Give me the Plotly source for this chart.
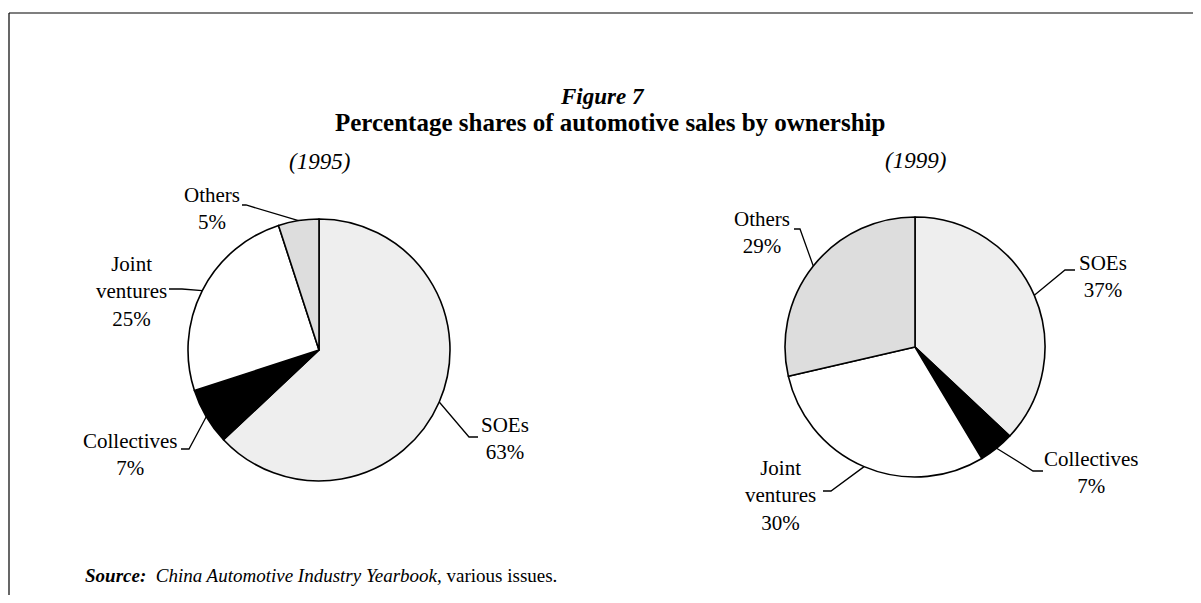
import math
import plotly.graph_objects as go

# the page body keeps an 8px margin, so the figure is sized to fit inside it
PAGE_W, PAGE_H = 1201, 603
OFF = 8
W, H = PAGE_W - 2 * OFF, PAGE_H - 2 * OFF
FONT = "Liberation Serif"

categories = ["SOEs", "Collectives", "Joint ventures", "Others"]
slice_colors = ["#eeeeee", "#000000", "#ffffff", "#dddddd"]

# slice sizes as drawn, and the percentages printed next to them
values_1995 = [63, 7, 25, 5]
labels_1995 = ["63%", "7%", "25%", "5%"]
values_1999 = [37, 4.4, 30, 28.6]
labels_1999 = ["37%", "7%", "30%", "29%"]


def px(x):
    """page pixel x -> paper fraction"""
    return (x - OFF) / W


def py(y):
    """page pixel y (from top) -> paper fraction"""
    return 1 - (y - OFF) / H


# pie geometry in page pixels: centre x, centre y, radius
PIE_1995 = (319, 350, 131)
PIE_1999 = (915, 347, 130)

# leader layout per slice: elbow point, end of horizontal tick, text centre
LEADERS_1995 = [
    ((469, 437), 478, (505, 438), "SOEs"),
    ((189, 449), 181, (130, 454), "Collectives"),
    ((182, 289), 169, (131, 291), "Joint<br>ventures"),
    ((246, 205), 242, (212, 209), "Others"),
]
LEADERS_1999 = [
    ((1065, 270), 1075, (1103, 276), "SOEs"),
    ((1033, 471), 1043, (1091, 473), "Collectives"),
    ((831, 491), 823, (780, 495), "Joint<br>ventures"),
    ((800, 229), 794, (762, 232), "Others"),
]

fig = go.Figure()
shapes = []
annotations = []


def add_pie(values, labels, geom, leaders):
    cx, cy, r = geom
    fig.add_trace(go.Pie(
        labels=categories, values=values, sort=False, direction="clockwise",
        rotation=0, textinfo="none", showlegend=False,
        hovertemplate="%{label}<extra></extra>",
        marker=dict(colors=slice_colors, line=dict(color="black", width=1.6)),
        domain=dict(x=[px(cx - r), px(cx + r)], y=[py(cy + r), py(cy - r)]),
    ))
    tot = sum(values)
    cum = 0
    for v, lab, (elbow, hx, tpos, name) in zip(values, labels, leaders):
        # leader starts on the rim at the slice's middle angle
        a = 2 * math.pi * (cum + v / 2) / tot
        cum += v
        ax = cx + r * math.sin(a)
        ay = cy - r * math.cos(a)
        ex, ey = elbow
        path = f"M {px(ax)} {py(ay)} L {px(ex)} {py(ey)} L {px(hx)} {py(ey)}"
        shapes.append(dict(type="path", xref="paper", yref="paper", path=path,
                           line=dict(color="black", width=1.3)))
        annotations.append(dict(
            x=px(tpos[0]), y=py(tpos[1]), xref="paper", yref="paper",
            text=f"{name}<br>{lab}", showarrow=False, align="center",
            xanchor="center", yanchor="middle",
            font=dict(family=FONT, size=21, color="black"),
        ))


add_pie(values_1995, labels_1995, PIE_1995, LEADERS_1995)
add_pie(values_1999, labels_1999, PIE_1999, LEADERS_1999)

# frame (top and left edges)
shapes.append(dict(type="line", xref="paper", yref="paper", x0=px(9), y0=py(13),
                   x1=1, y1=py(13), line=dict(color="black", width=1.2)))
shapes.append(dict(type="line", xref="paper", yref="paper", x0=px(9), y0=py(13),
                   x1=px(9), y1=0, line=dict(color="black", width=1.2)))


def txt(x, y, s, size, xanchor="center"):
    annotations.append(dict(x=px(x), y=py(y), xref="paper", yref="paper", text=s,
                            showarrow=False, xanchor=xanchor, yanchor="middle",
                            font=dict(family=FONT, size=size, color="black")))


txt(602, 96, "<b><i>Figure 7</i></b>", 23)
txt(610, 122, "<b>Percentage shares of automotive sales by ownership</b>", 25)
txt(319, 161, "<i>(1995)</i>", 23)
txt(915, 160, "<i>(1999)</i>", 23)
txt(83, 575, "<b><i>Source:</i></b>\u00a0 <i>China Automotive Industry Yearbook,</i> various issues.",
    19, xanchor="left")

fig.update_layout(
    width=W, height=H,
    margin=dict(l=0, r=0, t=0, b=0),
    paper_bgcolor="white", plot_bgcolor="white",
    shapes=shapes, annotations=annotations,
)
fig.write_html("out.html")
